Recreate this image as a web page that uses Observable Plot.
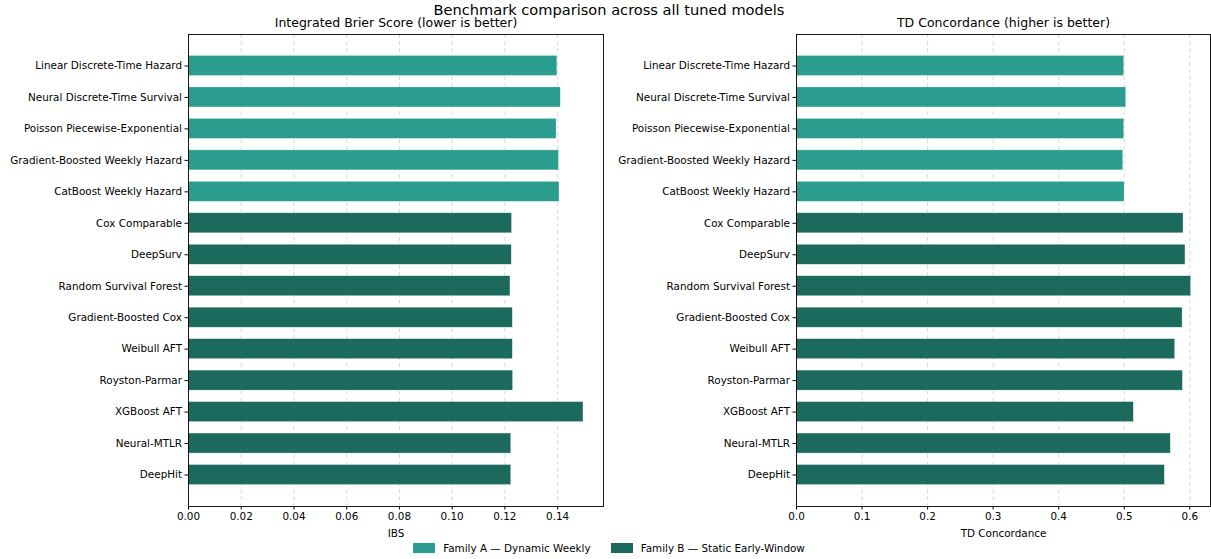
<!DOCTYPE html>
<html>
<head>
<meta charset="utf-8">
<script src="https://cdn.jsdelivr.net/npm/d3@7"></script>
<script src="https://cdn.jsdelivr.net/npm/@observablehq/plot@0.6"></script>
<style>
  html, body { margin: 0; padding: 0; background: #fff; }
  body { font-family: "DejaVu Sans", sans-serif; }
  #wrap { position: relative; width: 1211px; height: 559px; overflow: hidden; }
  #title { position: absolute; top: 1px; left: 0; width: 1218px; text-align: center; font-size: 14.6px; color: #000; line-height: 17px; }
  #left { position: absolute; left: 0; top: 0; }
  #right { position: absolute; left: 606px; top: 0; }
  #legend { position: absolute; top: 541px; left: 0; width: 1218px; display: flex; justify-content: center; align-items: center; font-size: 10.4px; line-height: 14px; color: #000; }
  .item { display: flex; align-items: center; margin: 0 10px; }
  .sw { display: inline-block; width: 22px; height: 10px; margin-right: 8px; }
</style>
</head>
<body>
<div id="wrap">
  <div id="title">Benchmark comparison across all tuned models</div>
  <div id="left"></div>
  <div id="right"></div>
  <div id="legend"></div>
</div>
<script>
const models = [
  "Linear Discrete-Time Hazard",
  "Neural Discrete-Time Survival",
  "Poisson Piecewise-Exponential",
  "Gradient-Boosted Weekly Hazard",
  "CatBoost Weekly Hazard",
  "Cox Comparable",
  "DeepSurv",
  "Random Survival Forest",
  "Gradient-Boosted Cox",
  "Weibull AFT",
  "Royston-Parmar",
  "XGBoost AFT",
  "Neural-MTLR",
  "DeepHit"
];
const familyNames = ["Family A — Dynamic Weekly", "Family B — Static Early-Window"];
const families = [0,0,0,0,0,1,1,1,1,1,1,1,1,1].map(i => familyNames[i]);
const ibs = [0.1399, 0.1412, 0.1396, 0.1405, 0.1407, 0.1227, 0.1226, 0.1221, 0.1230, 0.1230, 0.1231, 0.1498, 0.1224, 0.1224];
const tdc = [0.500, 0.503, 0.500, 0.4985, 0.5005, 0.5904, 0.5934, 0.602, 0.589, 0.5777, 0.5895, 0.5146, 0.571, 0.5619];
const ibsTicks = [0, 0.02, 0.04, 0.06, 0.08, 0.10, 0.12, 0.14];
const tdcTicks = [0, 0.1, 0.2, 0.3, 0.4, 0.5, 0.6];
const familyColors = ["#2a9d8f", "#1c6a5e"];

const rows = models.map((m, i) => ({model: m, family: families[i], ibs: ibs[i], tdc: tdc[i]}));

function panel({field, domain, ticks, fmt, xlabel, title, width, marginLeft, marginRight}) {
  return Plot.plot({
    width, height: 545,
    marginLeft, marginRight, marginTop: 34, marginBottom: 39,
    style: {fontFamily: "DejaVu Sans, sans-serif", fontSize: "10.4px", color: "#000", background: "transparent", overflow: "visible"},
    x: {domain, ticks, tickFormat: fmt},
    y: {domain: models, paddingInner: 0.364, paddingOuter: 0.682, round: false},
    color: {domain: familyNames, range: familyColors},
    marks: [
      Plot.gridX(ticks, {stroke: "#b0b0b0", strokeOpacity: 0.6, strokeDasharray: "4,3", strokeWidth: 0.8}),
      Plot.barX(rows, {x: field, y: "model", fill: "family", stroke: "white", strokeWidth: 0.5, strokeOpacity: 0.6}),
      Plot.axisX(ticks, {tickFormat: fmt, tickSize: 3.5, tickPadding: 3, label: null, fontSize: 10.4}),
      Plot.axisY({tickSize: 3.5, tickPadding: 3, label: null, fontSize: 10.4}),
      Plot.text([xlabel], {frameAnchor: "bottom", lineAnchor: "middle", dy: 27, fontSize: 10.4}),
      Plot.text([title], {frameAnchor: "top", lineAnchor: "middle", dy: -12, fontSize: 12.5}),
      Plot.frame({stroke: "#000", strokeWidth: 0.9})
    ]
  });
}

document.getElementById("left").appendChild(panel({
  field: "ibs", domain: [0, 0.1574], ticks: ibsTicks, fmt: d3.format(".2f"),
  xlabel: "IBS", title: "Integrated Brier Score (lower is better)",
  width: 620, marginLeft: 188, marginRight: 17
}));
document.getElementById("right").appendChild(panel({
  field: "tdc", domain: [0, 0.6316], ticks: tdcTicks, fmt: d3.format(".1f"),
  xlabel: "TD Concordance", title: "TD Concordance (higher is better)",
  width: 605, marginLeft: 190, marginRight: 1
}));

const legend = document.getElementById("legend");
familyNames.forEach((name, i) => {
  const item = document.createElement("div");
  item.className = "item";
  const sw = document.createElement("span");
  sw.className = "sw";
  sw.style.background = familyColors[i];
  const label = document.createElement("span");
  label.textContent = name;
  item.appendChild(sw);
  item.appendChild(label);
  legend.appendChild(item);
});
</script>
</body>
</html>
